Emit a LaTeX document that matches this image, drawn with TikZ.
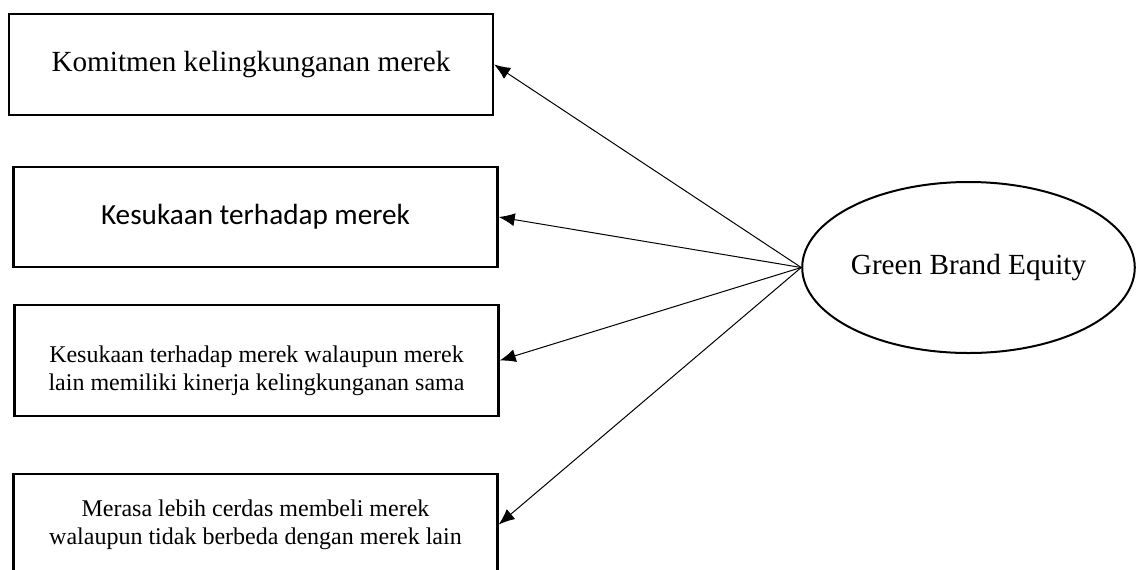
\documentclass[tikz,border=0pt]{standalone}
\usepackage{fontspec}
\setmainfont{Liberation Serif}
\newfontfamily\calibrifont{Carlito}
\usetikzlibrary{shapes.geometric}
\usetikzlibrary{arrows.meta}

\tikzset{
  kotak/.style={draw, rectangle, line width=1.2pt, inner sep=0pt, minimum width=242pt, align=center},
  besar/.style={font=\fontsize{14.6}{17}\selectfont},
  kecil/.style={font=\fontsize{12}{14}\selectfont},
  panah/.style={-{Latex[length=8pt,width=6.5pt]}, line width=0.5pt}
}

\begin{document}
\begin{tikzpicture}[x=0.5pt, y=-0.5pt]
  \useasboundingbox (0,0) rectangle (1136,569);
  \clip (0,0) rectangle (1136,569);
  \node[kotak, besar, minimum height=50.5pt] (k1) at (251,64.5) {Komitmen kelingkunganan merek};
  \node[kotak, besar, minimum height=50pt, font=\calibrifont\fontsize{14.6}{17}\selectfont] (k2) at (255.5,217) {Kesukaan terhadap merek};
  \node[kotak, minimum height=55.5pt] (k3) at (256.5,360.5) {};
  \node[kecil, align=center] (t3) at ([yshift=-5pt]k3.center) {Kesukaan terhadap merek walaupun merek\\lain memiliki kinerja kelingkunganan sama};
  \node[kotak, kecil, minimum height=50.5pt] (k4) at (255.5,524.5) {Merasa lebih cerdas membeli merek\\walaupun tidak berbeda dengan merek lain};
  \node[ellipse, draw, besar, line width=1pt, inner sep=0pt, minimum width=163.5pt, minimum height=85.5pt] (gbe) at (968.5,267.5) {Green Brand Equity};
  \foreach \to in {k1, k2, k3, k4}
   \draw[panah] (gbe.west) -- (\to.east);
\end{tikzpicture}
\end{document}
